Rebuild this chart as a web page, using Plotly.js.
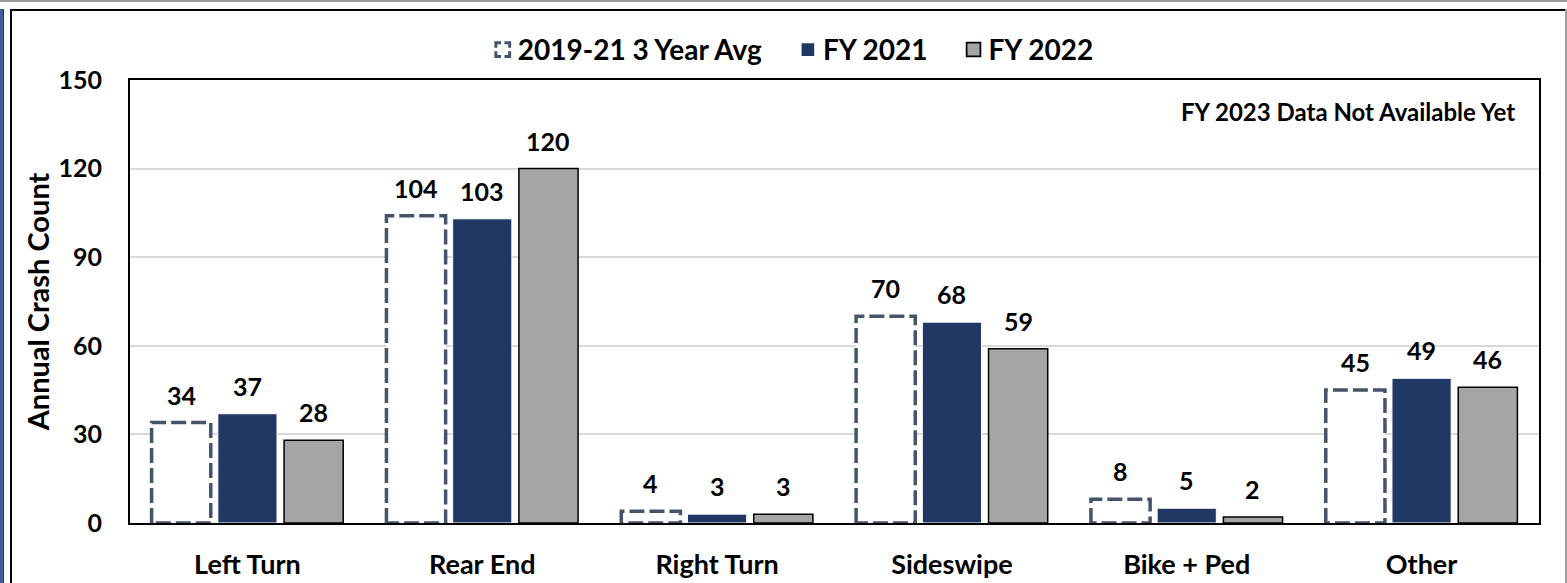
<!DOCTYPE html>
<html>
<head>
<meta charset="utf-8">
<script src="https://cdn.plot.ly/plotly-3.0.1.min.js"></script>
<style>
  html, body { margin: 0; padding: 0; background: #fff; }
  #wrap { position: relative; width: 1567px; height: 583px; overflow: hidden; }
  #chart { position: absolute; left: 0; top: 0; width: 1567px; height: 583px; }
  .deco { position: absolute; pointer-events: none; }
</style>
</head>
<body>
<div id="wrap">
  <div id="chart"></div>
  <div class="deco" style="left:0;top:0;width:1567px;height:2px;background:#9a9a9a;"></div>
  <div class="deco" style="left:0;top:9px;width:3px;height:574px;background:#3c5c9c;border-right:1px solid #1f3864;"></div>
  <div class="deco" style="left:10px;top:9px;width:2px;height:574px;background:#000;"></div>
  <div class="deco" style="left:10px;top:9px;width:1556px;height:2px;background:#000;"></div>
  <div class="deco" style="left:1565px;top:9px;width:2px;height:574px;background:#a0a0a0;"></div>
</div>
<script>
// ---- data ----
const categories = ["Left Turn", "Rear End", "Right Turn", "Sideswipe", "Bike + Ped", "Other"];
const seriesNames = ["2019-21 3 Year Avg", "FY 2021", "FY 2022"];
const avgValues = [34, 104, 4, 70, 8, 45];
const fy2021Values = [37, 103, 3, 68, 5, 49];
const fy2022Values = [28, 120, 3, 59, 2, 46];
const yTickValues = [0, 30, 60, 90, 120, 150];
const noteText = "FY 2023 Data Not Available Yet";
const yTitle = "Annual Crash Count";

// ---- styling / layout ----
const FONT = "Lato, 'Open Sans', 'DejaVu Sans', sans-serif";
const slot = 0.282;
const barW = 0.252;
const offsets = [-slot, 0, slot];
const allValues = [avgValues, fy2021Values, fy2022Values];
const markers = [
  {color: "#ffffff", line: {color: "#44546a", width: 3.5}},
  {color: "#203864", line: {color: "#ffffff", width: 1}},
  {color: "#a5a5a5", line: {color: "#000000", width: 1.5}}
];

const traces = allValues.map((vals, k) => ({
  type: "bar",
  name: seriesNames[k],
  x: categories.map((_, i) => i + offsets[k]),
  y: vals,
  width: barW,
  marker: markers[k],
  hoverinfo: "skip"
}));

const annotations = [];
allValues.forEach((vals, k) => {
  vals.forEach((v, i) => {
    annotations.push({
      xref: "x", yref: "y", x: i + offsets[k], y: v,
      text: String(v), showarrow: false,
      xanchor: "center", yanchor: "bottom", yshift: 11,
      font: {family: FONT, size: 25, color: "#000", weight: "bold"}
    });
  });
});
annotations.push({
  xref: "paper", yref: "paper", x: 0.9844, y: 0.930,
  xanchor: "right", yanchor: "middle", showarrow: false,
  text: noteText,
  font: {family: FONT, size: 24, color: "#000", weight: "bold"}
});

const layout = {
  width: 1567, height: 583,
  margin: {l: 130, r: 28, t: 80, b: 60, pad: 0},
  paper_bgcolor: "rgba(0,0,0,0)",
  plot_bgcolor: "#ffffff",
  barmode: "overlay",
  showlegend: true,
  legend: {
    orientation: "h", x: 0.4615, xanchor: "center", y: 1.068, yanchor: "middle",
    itemwidth: 46,
    font: {family: FONT, size: 28, color: "#000", weight: "bold"},
    traceorder: "normal", bgcolor: "rgba(0,0,0,0)"
  },
  xaxis: {
    type: "linear", range: [-0.5, 5.5],
    tickvals: categories.map((_, i) => i), ticktext: categories,
    showgrid: false, zeroline: false,
    showline: true, mirror: true, linecolor: "#000", linewidth: 2,
    ticks: "", ticklabelstandoff: 17,
    tickfont: {family: FONT, size: 27, color: "#000", weight: "bold"},
    fixedrange: true
  },
  yaxis: {
    range: [0, 150], tickvals: yTickValues,
    showgrid: true, gridcolor: "#d9d9d9", gridwidth: 2,
    zeroline: false, showline: true, mirror: true, linecolor: "#000", linewidth: 2,
    ticks: "", ticklabelstandoff: 21,
    tickfont: {family: FONT, size: 25, color: "#000", weight: "bold"},
    title: {text: yTitle, standoff: 0, font: {family: FONT, size: 29, color: "#000", weight: "bold"}},
    fixedrange: true
  },
  annotations: annotations
};

Plotly.newPlot("chart", traces, layout, {displayModeBar: false, staticPlot: true}).then(gd => {
  const barTraces = gd.querySelectorAll(".barlayer .trace");
  if (barTraces[0]) {
    barTraces[0].querySelectorAll("path").forEach(p => {
      p.style.strokeDasharray = "15px,5px";
    });
  }
  const legendItems = gd.querySelectorAll(".legend .traces");
  legendItems.forEach((item, k) => {
    const pts = item.querySelector(".legendpoints");
    if (pts) pts.setAttribute("transform", "translate(13,0)");
    item.querySelectorAll(".legendpoints path").forEach(p => {
      const t = p.getAttribute("transform") || "";
      p.setAttribute("transform", t + " scale(1.15)");
      if (k === 0) {
        p.style.strokeDasharray = "9px,3px";
        p.style.strokeDashoffset = "4.5px";
        p.style.strokeWidth = "2.6px";
      }
    });
  });
});
</script>
</body>
</html>
